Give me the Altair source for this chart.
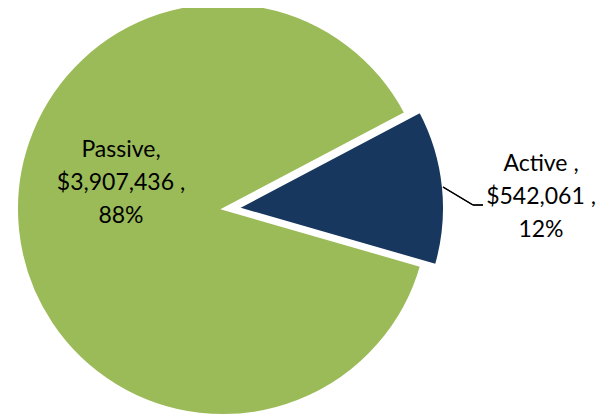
import math
import altair as alt
import pandas as pd

categories = ["Active", "Passive"]
values = [542061, 3907436]
labels = ["Active ,\n$542,061 ,\n12%", "Passive,\n$3,907,436 ,\n88%"]
order = [0, 1]

NAVY = "#17375E"
GREEN = "#9BBB59"

df = pd.DataFrame({"category": categories, "value": values, "label": labels, "order": order})
total = sum(values)
start = math.radians(62.2)
theta_scale = alt.Scale(domain=[0, total], range=[start, start + 2 * math.pi])
color = alt.Color("category:N", scale=alt.Scale(domain=categories, range=[NAVY, GREEN]), legend=None)

base = alt.Chart(df).transform_stack(
    stack="value", groupby=[], as_=["v0", "v1"], sort=[alt.SortField("order")]
)

passive = base.transform_filter("datum.category == 'Passive'").mark_arc(
    stroke="white", strokeWidth=2
).encode(
    theta=alt.Theta("v0:Q", scale=theta_scale),
    theta2="v1:Q",
    color=color,
    x=alt.value(215), y=alt.value(201), radius=alt.value(206),
)

active = base.transform_filter("datum.category == 'Active'").mark_arc(
    stroke="white", strokeWidth=2
).encode(
    theta=alt.Theta("v0:Q", scale=theta_scale),
    theta2="v1:Q",
    color=color,
    x=alt.value(230), y=alt.value(200), radius=alt.value(206),
)

txt = dict(font="Lato", fontSize=23, lineHeight=33, lineBreak="\n",
           align="center", baseline="middle", color="black")

passive_label = base.transform_filter("datum.category == 'Passive'").mark_text(**txt).encode(
    text="label:N", x=alt.value(113), y=alt.value(142)
)
active_label = base.transform_filter("datum.category == 'Active'").mark_text(**txt).encode(
    text="label:N", x=alt.value(533), y=alt.value(156)
)

leader1 = alt.Chart(df).mark_rule(color="black", strokeWidth=1.3).encode(
    x=alt.value(435), y=alt.value(179), x2=alt.value(465), y2=alt.value(197)
)
leader2 = alt.Chart(df).mark_rule(color="black", strokeWidth=1.3).encode(
    x=alt.value(465), y=alt.value(197), x2=alt.value(475), y2=alt.value(197)
)

chart = alt.layer(passive, active, leader1, leader2, passive_label, active_label).properties(
    width=588, height=409, autosize=alt.AutoSizeParams(type="none"), padding=0
).configure_view(stroke=None)

chart.save("out.html", embed_options={"renderer": "svg", "actions": False})
